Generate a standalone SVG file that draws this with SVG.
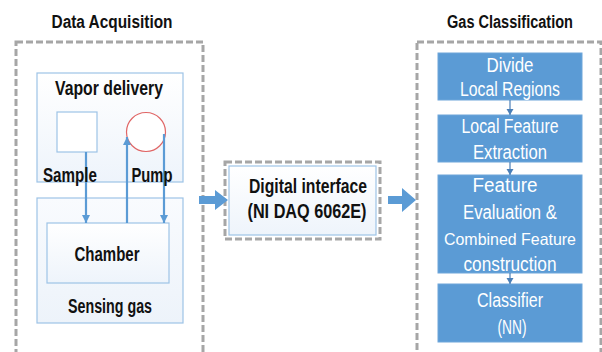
<svg xmlns="http://www.w3.org/2000/svg" width="602" height="352" viewBox="0 0 602 352">
<defs>
<linearGradient id="lg" x1="0" y1="0" x2="0" y2="1"><stop offset="0" stop-color="#ffffff"/><stop offset="1" stop-color="#eef4fb"/></linearGradient>
<linearGradient id="lg2" x1="0" y1="0" x2="0" y2="1"><stop offset="0" stop-color="#f9fbfe"/><stop offset="1" stop-color="#edf3fa"/></linearGradient>
<marker id="ah" markerWidth="10" markerHeight="10" refX="8" refY="4" orient="auto" markerUnits="userSpaceOnUse"><path d="M0,0 L8,4 L0,8 Z" fill="#5b9bd5"/></marker>
<marker id="sh" markerWidth="8" markerHeight="8" refX="6" refY="3.5" orient="auto" markerUnits="userSpaceOnUse"><path d="M0,0 L6,3.5 L0,7 Z" fill="#4a7fb8"/></marker>
</defs>
<style>
.t{font-family:"Liberation Sans",Arial,sans-serif;font-size:20px;text-anchor:middle;fill:#111}
.h{font-size:18px}
.b{font-weight:bold}
.w{fill:#ffffff;font-size:20px}
.s{font-size:16.5px}
.dash{fill:none;stroke:#a6a6a6;stroke-width:3;stroke-dasharray:7,3}
.lb{stroke:#9dc3e6;stroke-width:1.2}
.blue{fill:#5b9bd5;stroke:#6fa6da;stroke-width:1}
.con{stroke:#5b9bd5;stroke-width:2.2;fill:none}
</style>
<rect width="602" height="352" fill="#ffffff"/>

<g id="data-acquisition">
<text class="t h b" x="112" y="28" textLength="121" lengthAdjust="spacingAndGlyphs">Data Acquisition</text>
<rect class="dash" x="16" y="42" width="187" height="340"/>
</g>

<g id="vapor-delivery">
<rect x="37" y="73" width="146" height="109" fill="url(#lg)" class="lb"/>
<text class="t b" x="109" y="95" textLength="108" lengthAdjust="spacingAndGlyphs">Vapor delivery</text>
</g>
<g id="sample">
<rect x="57" y="112" width="40" height="40" fill="#ffffff" class="lb"/>
</g>
<g id="pump">
<circle cx="146" cy="132" r="19.5" fill="#ffffff" stroke="#e06666" stroke-width="1.2"/>
</g>
<g id="sensing-gas">
<rect x="37" y="198" width="146" height="125" fill="url(#lg2)" class="lb"/>
<text class="t b" x="110" y="313" textLength="84" lengthAdjust="spacingAndGlyphs">Sensing gas</text>
</g>
<g id="chamber">
<rect x="47" y="223" width="122" height="60" fill="url(#lg)" class="lb"/>
<text class="t b" x="107" y="261" textLength="65" lengthAdjust="spacingAndGlyphs">Chamber</text>
</g>

<g id="digital-interface">
<rect class="dash" x="225" y="162" width="155" height="77"/>
<rect x="229" y="166" width="147" height="69" fill="url(#lg)" class="lb"/>
<text class="t b" x="308" y="193" textLength="118" lengthAdjust="spacingAndGlyphs">Digital interface</text>
<text class="t b" x="307" y="218" textLength="119" lengthAdjust="spacingAndGlyphs">(NI DAQ 6062E)</text>
</g>

<g id="gas-classification">
<text class="t h b" x="510" y="28" textLength="126" lengthAdjust="spacingAndGlyphs">Gas Classification</text>
<rect class="dash" x="417" y="42" width="184" height="340"/>
</g>
<g id="divide">
<rect class="blue" x="438" y="53" width="144" height="47"/>
<text class="t w" x="510" y="72" textLength="47" lengthAdjust="spacingAndGlyphs">Divide</text>
<text class="t w" x="510" y="96" textLength="100" lengthAdjust="spacingAndGlyphs">Local Regions</text>
</g>
<g id="local-feature">
<rect class="blue" x="438" y="115" width="144" height="47"/>
<text class="t w" x="510" y="133" textLength="97" lengthAdjust="spacingAndGlyphs">Local Feature</text>
<text class="t w" x="510" y="159" textLength="74" lengthAdjust="spacingAndGlyphs">Extraction</text>
</g>
<g id="feature-evaluation">
<rect class="blue" x="438" y="175" width="144" height="98"/>
<text class="t w" x="505" y="192" textLength="65" lengthAdjust="spacingAndGlyphs">Feature</text>
<text class="t w" x="510" y="219" textLength="94" lengthAdjust="spacingAndGlyphs">Evaluation &amp;</text>
<text class="t w s" x="510" y="245" textLength="132" lengthAdjust="spacingAndGlyphs">Combined Feature</text>
<text class="t w" x="510" y="271" textLength="93" lengthAdjust="spacingAndGlyphs">construction</text>
</g>
<g id="classifier">
<rect class="blue" x="438" y="284" width="144" height="58"/>
<text class="t w" x="510" y="307" textLength="66" lengthAdjust="spacingAndGlyphs">Classifier</text>
<text class="t w" x="512" y="334" textLength="29" lengthAdjust="spacingAndGlyphs">(NN)</text>
</g>

<g id="connectors">
<line class="con" x1="86" y1="152" x2="86" y2="223" marker-end="url(#ah)"/>
<line class="con" x1="127" y1="223" x2="127" y2="137" marker-end="url(#ah)"/>
<line class="con" x1="164" y1="134" x2="164" y2="223" marker-end="url(#ah)"/>
<path d="M199,196 L215,196 L215,190 L228,200 L215,210 L215,204 L199,204 Z" fill="#5b9bd5"/>
<path d="M388,196 L402,196 L402,188 L416,200 L402,212 L402,204 L388,204 Z" fill="#5b9bd5"/>
<line x1="510" y1="100" x2="510" y2="115" stroke="#4a7fb8" stroke-width="1.2" marker-end="url(#sh)"/>
<line x1="510" y1="162" x2="510" y2="175" stroke="#4a7fb8" stroke-width="1.2" marker-end="url(#sh)"/>
<line x1="510" y1="273" x2="510" y2="284" stroke="#4a7fb8" stroke-width="1.2" marker-end="url(#sh)"/>
</g>

<g id="labels-over">
<text class="t b" x="70" y="182" textLength="54" lengthAdjust="spacingAndGlyphs">Sample</text>
<text class="t b" x="152" y="182" textLength="41" lengthAdjust="spacingAndGlyphs">Pump</text>
</g>
</svg>
